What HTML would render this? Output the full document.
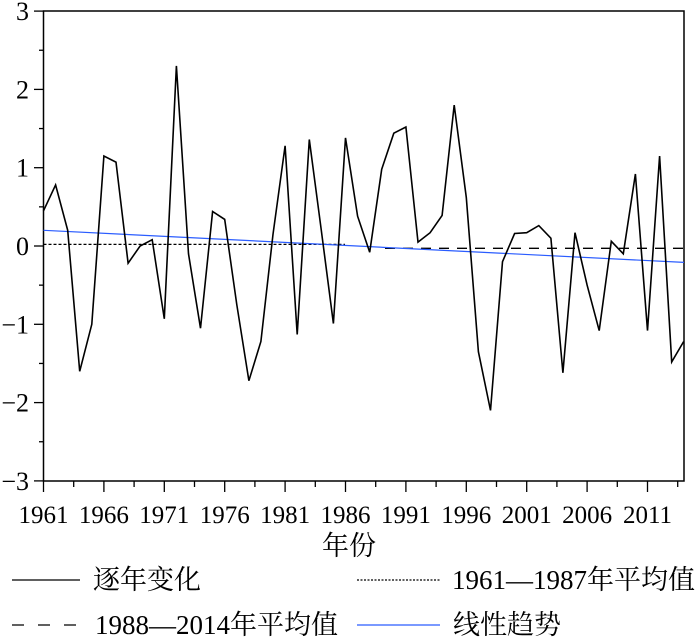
<!DOCTYPE html>
<html><head><meta charset="utf-8"><style>
html,body{margin:0;padding:0;background:#fff;}
svg{display:block;}
text{font-family:"Liberation Serif","Noto Serif CJK SC","Noto Sans CJK SC",serif;fill:#000;}
</style></head><body>
<svg width="700" height="639" viewBox="0 0 700 639" xmlns="http://www.w3.org/2000/svg">
<g id="ticks" stroke="#000" stroke-width="1.3"></g>
<rect x="43.5" y="11" width="640.5" height="470" fill="none" stroke="#000" stroke-width="1.5"/>
<g id="ylab" font-size="26" text-anchor="end"></g>
<g id="xlab" font-size="25" text-anchor="middle"></g>
<line x1="43.5" y1="244.4" x2="345" y2="244.4" stroke="#000" stroke-width="1.2" stroke-dasharray="3,2"/>
<line x1="385" y1="248.3" x2="684" y2="248.3" stroke="#000" stroke-width="1.3" stroke-dasharray="10,8"/>
<line x1="43.5" y1="230.3" x2="684" y2="262.4" stroke="#2a5cff" stroke-width="1.2"/>
<polyline id="series" fill="none" stroke="#000" stroke-width="1.6" stroke-linejoin="miter"/>
<text x="349" y="555" font-size="27" text-anchor="middle">年份</text>
<line x1="12" y1="580" x2="80" y2="580" stroke="#000" stroke-width="1.3"/>
<text x="93" y="589" font-size="27">逐年变化</text>
<line x1="357" y1="580" x2="440" y2="580" stroke="#000" stroke-width="1.2" stroke-dasharray="2,1.5"/>
<text x="452" y="589" font-size="27">1961—1987年平均值</text>
<line x1="12" y1="625" x2="80" y2="625" stroke="#000" stroke-width="1.3" stroke-dasharray="12,14"/>
<text x="95" y="634" font-size="27">1988—2014年平均值</text>
<line x1="357" y1="625" x2="440" y2="625" stroke="#2a5cff" stroke-width="1.2"/>
<text x="453" y="634" font-size="27">线性趋势</text>
</svg>
<script>
var ns="http://www.w3.org/2000/svg";
function X(y){return 43.5+(y-1961)*12.08;}
function Y(v){return 246-78.3*v;}
var d=[0.45,0.78,0.2,-1.6,-1.0,1.15,1.07,-0.22,0.0,0.08,-0.93,2.3,-0.1,-1.05,0.44,0.34,-0.75,-1.72,-1.22,0.15,1.28,-1.13,1.36,0.2,-0.99,1.38,0.38,-0.08,0.98,1.44,1.52,0.05,0.17,0.39,1.8,0.62,-1.35,-2.1,-0.2,0.16,0.17,0.26,0.1,-1.62,0.17,-0.5,-1.08,0.06,-0.1,0.92,-1.08,1.15,-1.48,-1.22];
var p=d.map(function(v,i){return X(1961+i).toFixed(1)+","+Y(v).toFixed(1)}).join(" ");
document.getElementById("series").setAttribute("points",p);
var t=document.getElementById("ticks"),s="";
for(var v=-3;v<=3;v+=0.5){var y=Y(v);var maj=Math.abs(v-Math.round(v))<1e-6;s+='<line x1="'+(maj?34:39)+'" y1="'+y+'" x2="43.5" y2="'+y+'"/>';}
for(var k=0;k<=21;k++){var yr=1961+k*2.5;var x=X(yr);var maj=k%2==0;s+='<line x1="'+x+'" y1="481" x2="'+x+'" y2="'+(maj?492:487)+'"/>';}
t.innerHTML=s;
var yl="";for(var v=-3;v<=3;v++){yl+='<text x="29" y="'+(Y(v)+9)+'">'+(v<0?'\u2212'+(-v):v)+'</text>';}
document.getElementById("ylab").innerHTML=yl;
var xl="";for(var yr=1961;yr<=2011;yr+=5){xl+='<text x="'+X(yr)+'" y="523">'+yr+'</text>';}
document.getElementById("xlab").innerHTML=xl;
</script>
</body></html>
